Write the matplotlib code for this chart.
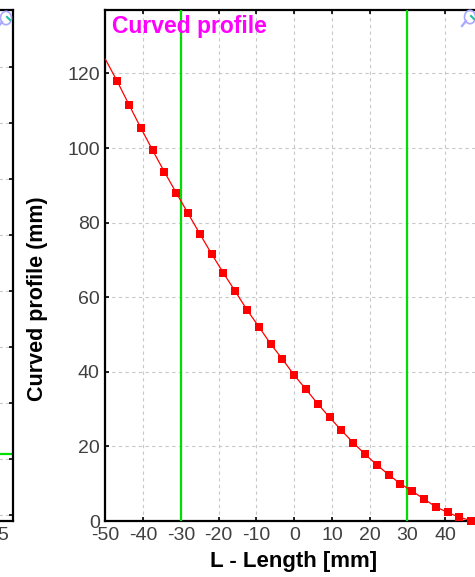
import matplotlib
matplotlib.use('Agg')
import matplotlib.pyplot as plt
from matplotlib.patches import Circle
from matplotlib.lines import Line2D

plt.rcParams['font.family'] = ['Liberation Sans', 'DejaVu Sans']
plt.rcParams['axes.unicode_minus'] = False

# --- data ---
length_mm = [-50.0, -46.875, -43.75, -40.625, -37.5, -34.375, -31.25, -28.125,
             -25.0, -21.875, -18.75, -15.625, -12.5, -9.375, -6.25, -3.125,
             0.0, 3.125, 6.25, 9.375, 12.5, 15.625, 18.75, 21.875,
             25.0, 28.125, 31.25, 34.375, 37.5, 40.625, 43.75, 46.875, 50.0]
profile_mm = [123.8, 117.9, 111.6, 105.4, 99.4, 93.6, 88.0, 82.5,
              77.0, 71.6, 66.5, 61.6, 56.6, 52.1, 47.5, 43.4,
              39.1, 35.3, 31.4, 27.8, 24.3, 21.0, 17.9, 15.1,
              12.4, 10.0, 8.0, 5.9, 3.8, 2.3, 1.0, 0.1, 0.0]
limit_lines = [-30, 30]
x_ticks = [-50, -40, -30, -20, -10, 0, 10, 20, 30, 40]
y_ticks = [0, 20, 40, 60, 80, 100, 120]

W, H = 475, 577
fig = plt.figure(figsize=(W / 100, H / 100), dpi=100)


def fx(px):
    return px / W


def fy(py):
    return 1 - py / H


grid_kw = dict(color='#c8c8c8', linestyle=(0, (3, 3)), linewidth=0.8)

# --- partial neighbour panel on the far left ---
axl = fig.add_axes([fx(13) - 0.3, fy(521), 0.3, (521 - 10) / H])
axl.set_xlim(-8.95, 6.05)
axl.set_ylim(-0.107, 9.018)
axl.set_yticks(range(9))
axl.set_xticks([5])
axl.set_xticklabels(['5'])
axl.tick_params(axis='y', direction='in', left=False, right=True, labelleft=False,
                length=3, width=1.2, color='black')
axl.tick_params(axis='x', direction='in', length=0, labelsize=14, labelcolor='#404040', pad=4)
axl.grid(True, axis='y', **grid_kw)
axl.axhline(1.09, color='#00dd00', lw=1.6)
for s in axl.spines.values():
    s.set_linewidth(1.6)
axl.spines['left'].set_visible(False)

# --- main chart ---
ax = fig.add_axes([fx(105.4), fy(521), (483 - 105.4) / W, (521 - 10) / H])
ax.set_xlim(-50, 50)
ax.set_ylim(0, 137)
ax.set_xticks(x_ticks)
ax.set_yticks(y_ticks)
ax.grid(True, **grid_kw)
ax.set_axisbelow(True)

for xv in limit_lines:
    ax.axvline(xv, color='#00dd00', lw=1.6, zorder=3)

ax.plot(length_mm, profile_mm, color='#ff0000', lw=0.9, marker='s', markersize=5.5,
        markeredgewidth=0, markevery=slice(1, None), clip_on=False, zorder=5)

ax.tick_params(direction='in', length=3, width=1.2, color='black',
               labelsize=14, labelcolor='#404040', pad=4,
               top=True, right=False)
ax.spines['right'].set_visible(False)
for side in ['left', 'bottom', 'top']:
    ax.spines[side].set_linewidth(1.6)

ax.text(0.0175, 0.955, 'Curved profile', transform=ax.transAxes, ha='left', va='baseline',
        color='#ff00ff', fontsize=16.5, fontweight='bold')

fig.text(fx(38), fy(299), 'Curved profile (mm)', rotation=90, ha='center', va='center',
         fontsize=15.5, fontweight='bold', color='black')
fig.text(fx(294), fy(561), 'L - Length [mm]', ha='center', va='center',
         fontsize=16, fontweight='bold', color='black')


# small zoom icons (magnifier) drawn by the charting tool
def zoom_icon(cx, cy):
    fig.add_artist(Circle((fx(cx), fy(cy)), 5.5 / W, transform=fig.transFigure,
                          facecolor='none', edgecolor='#a8a8ff', lw=1.2))
    fig.add_artist(Line2D([fx(cx + 1), fx(cx + 4)], [fy(cy - 1), fy(cy + 2)],
                          color='#20c0a0', lw=1.5))
    fig.add_artist(Line2D([fx(cx - 4), fx(cx - 8)], [fy(cy + 4), fy(cy + 9)],
                          color='#a8a8ff', lw=1.6))


zoom_icon(470, 17)
zoom_icon(6, 18)

fig.savefig('out.png', dpi=100)
